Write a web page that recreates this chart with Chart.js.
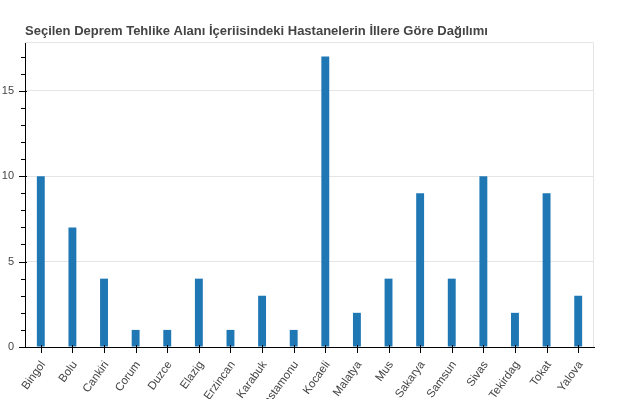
<!DOCTYPE html>
<html>
<head>
<meta charset="utf-8">
<script src="https://cdn.jsdelivr.net/npm/chart.js@4/dist/chart.umd.min.js"></script>
<style>
html,body{margin:0;padding:0;background:#fff;}
#wrap{width:619px;height:399px;position:relative;}
</style>
</head>
<body>
<div id="wrap"><canvas id="c" width="619" height="399"></canvas></div>
<script>
const titleText = "Seçilen Deprem Tehlike Alanı İçeriisindeki Hastanelerin İllere Göre Dağılımı";
const categories = ["Bingol","Bolu","Cankiri","Corum","Duzce","Elazig","Erzincan","Karabuk","Kastamonu","Kocaeli","Malatya","Mus","Sakarya","Samsun","Sivas","Tekirdag","Tokat","Yalova"];
const hospitalCounts = [10,7,4,1,1,4,1,3,1,17,2,4,9,4,10,2,9,3];
const yTickStep = 5;
const yMax = 17.85;

const FONT = "'Liberation Sans', Arial, Helvetica, sans-serif";

const framePlugin = {
  id: 'frame',
  beforeDatasetsDraw(chart) {
    const {ctx, chartArea: a} = chart;
    ctx.save();
    ctx.strokeStyle = '#e5e5e5';
    ctx.lineWidth = 1;
    ctx.beginPath();
    ctx.moveTo(a.left, a.top + 0.5);
    ctx.lineTo(a.right - 0.5, a.top + 0.5);
    ctx.lineTo(a.right - 0.5, a.bottom);
    ctx.stroke();
    ctx.restore();
  },
  afterLayout(chart) {
    const t = chart.titleBlock;
    if (t) { t.left = 25; }
  },
  afterDraw(chart) {
    const {ctx, chartArea: a} = chart;
    const ys = chart.scales.y, xs = chart.scales.x;
    ctx.save();
    ctx.strokeStyle = '#000';
    ctx.lineWidth = 1;
    ctx.beginPath();
    for (let v = 0; v <= Math.floor(ys.max); v++) {
      const py = Math.round(ys.getPixelForValue(v)) + 0.5;
      const major = v % yTickStep === 0;
      ctx.moveTo(a.left - (major ? 6 : 4), py);
      ctx.lineTo(a.left + (major ? 2 : 0), py);
    }
    for (let i = 0; i < categories.length; i++) {
      const px = Math.round(xs.getPixelForValue(i)) + 0.5;
      ctx.moveTo(px, a.bottom - 2);
      ctx.lineTo(px, a.bottom + 6);
    }
    ctx.stroke();
    ctx.restore();
  }
};

new Chart(document.getElementById('c'), {
  type: 'bar',
  data: {
    labels: categories,
    datasets: [{
      data: hospitalCounts,
      backgroundColor: '#1f77b4',
      borderWidth: 0,
      barPercentage: 0.25,
      categoryPercentage: 1.0
    }]
  },
  options: {
    responsive: false,
    animation: false,
    layout: { padding: { left: 0, right: 25, top: 0, bottom: 0 } },
    plugins: {
      legend: { display: false },
      tooltip: { enabled: false },
      title: {
        display: true,
        text: titleText,
        align: 'start',
        color: '#444',
        font: { family: FONT, size: 13, weight: 'bold' },
        padding: { top: 23.6, bottom: 2.8 }
      }
    },
    scales: {
      x: {
        offset: true,
        grid: { display: false, drawTicks: false },
        border: { display: true, color: '#000', width: 1 },
        ticks: {
          color: '#444',
          font: { family: FONT, size: 11.5 },
          minRotation: 54,
          maxRotation: 54,
          autoSkip: false,
          padding: 11.5,
          labelOffset: 2.5
        },
        afterFit(s) { s.height = 52; }
      },
      y: {
        min: 0,
        max: yMax,
        grid: {
          drawTicks: false,
          color: (c) => (c.tick && c.tick.value === 0) ? 'rgba(0,0,0,0)' : '#e5e5e5'
        },
        border: { display: true, color: '#000', width: 1 },
        ticks: {
          stepSize: yTickStep,
          includeBounds: false,
          color: '#444',
          font: { family: FONT, size: 11 },
          padding: 11
        },
        afterFit(s) { s.width = 25; }
      }
    }
  },
  plugins: [framePlugin]
});
</script>
</body>
</html>
